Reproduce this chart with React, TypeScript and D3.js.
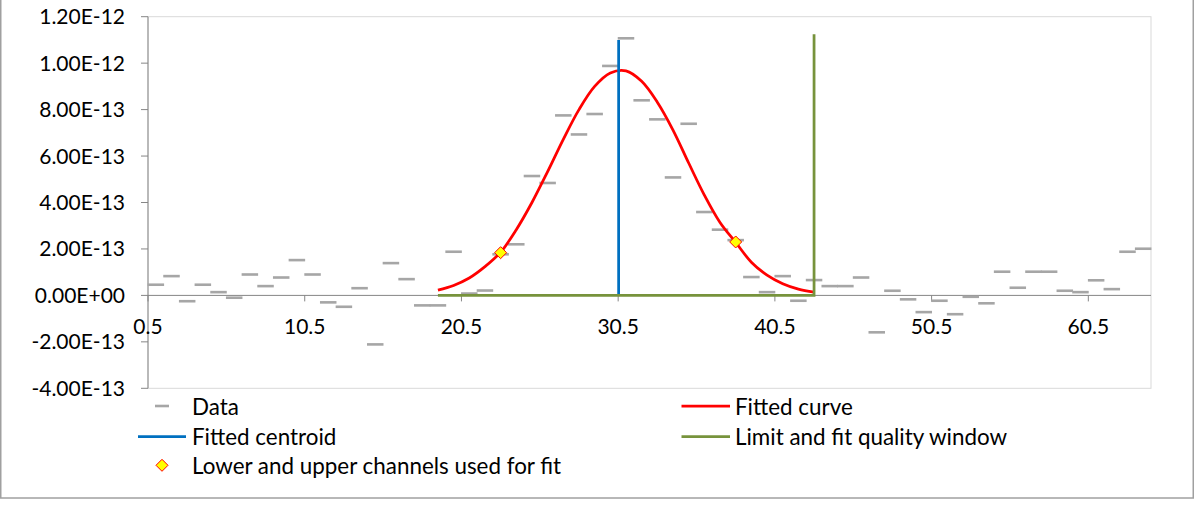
import React from "react";
import * as d3 from "d3";

// ---- data ----
const channels: number[] = d3.range(1, 65);
const dataValues: number[] = [
  4.6e-14, 8.3e-14, -2.5e-14, 4.6e-14, 1.4e-14, -1.0e-14, 9.0e-14, 4.0e-14, 7.7e-14, 15.2e-14,
  9.0e-14, -3.0e-14, -4.9e-14, 3.1e-14, -21.1e-14, 13.9e-14, 7.0e-14, -4.3e-14, -4.3e-14, 18.8e-14,
  0.8e-14, 2.1e-14, 17.7e-14, 22.0e-14, 51.4e-14, 48.4e-14, 77.5e-14, 69.3e-14, 78.1e-14, 98.8e-14,
  110.7e-14, 84.0e-14, 75.8e-14, 50.8e-14, 73.9e-14, 35.9e-14, 28.3e-14, 23.8e-14, 7.9e-14, 1.4e-14,
  8.3e-14, -2.3e-14, 6.6e-14, 4.0e-14, 4.0e-14, 7.7e-14, -15.9e-14, 2.0e-14, -1.7e-14, -7.2e-14,
  -2.3e-14, -8.1e-14, -0.6e-14, -3.4e-14, 10.2e-14, 3.3e-14, 10.2e-14, 10.2e-14, 2.0e-14, 1.4e-14,
  6.5e-14, 2.7e-14, 18.8e-14, 20.1e-14,
];

const curveChannels: number[] = d3.range(19, 44);
const curveValues: number[] = [
  0.023e-12, 0.043e-12, 0.075e-12, 0.124e-12, 0.186e-12, 0.283e-12, 0.4e-12, 0.533e-12, 0.672e-12,
  0.8e-12, 0.9e-12, 0.958e-12, 0.967e-12, 0.922e-12, 0.832e-12, 0.712e-12, 0.57e-12, 0.432e-12,
  0.314e-12, 0.228e-12, 0.143e-12, 0.087e-12, 0.05e-12, 0.027e-12, 0.014e-12,
];

const fitChannels: number[] = [23, 38];
const fitValues: number[] = [1.84e-13, 2.3e-13];

const centroidChannel = 30.53;
const centroidTop = 1.1e-12;

const windowChannels: number[] = [19, 43, 43];
const windowValues: number[] = [0, 0, 1.124e-12];

const yTicks: number[] = [-4e-13, -2e-13, 0, 2e-13, 4e-13, 6e-13, 8e-13, 1e-12, 1.2e-12];
const yTickLabels: string[] = [
  "-4.00E-13", "-2.00E-13", "0.00E+00", "2.00E-13", "4.00E-13", "6.00E-13", "8.00E-13", "1.00E-12", "1.20E-12",
];
const xTicks: number[] = [0.5, 10.5, 20.5, 30.5, 40.5, 50.5, 60.5];
const xTickLabels: string[] = ["0.5", "10.5", "20.5", "30.5", "40.5", "50.5", "60.5"];

const legendLabels: string[] = [
  "Data",
  "Fitted curve",
  "Fitted centroid",
  "Limit and fit quality window",
  "Lower and upper channels used for fit",
];

// ---- styles ----
const FONT = "Lato, 'Open Sans', sans-serif";
const GRAY = "#A6A6A6";
const RED = "#FF0000";
const BLUE = "#0070C0";
const GREEN = "#77933C";
const AXIS = "#868686";

const W = 1200;
const H = 516;
const L = 148;
const R = 1151;
const T = 16.7;
const B = 388.3;

export default function App() {
  const x = d3.scaleLinear().domain([0.5, 64.5]).range([L, R]);
  const y = d3.scaleLinear().domain([-4e-13, 1.2e-12]).range([B, T]);

  const line = d3
    .line<[number, number]>()
    .x((d) => x(d[0]))
    .y((d) => y(d[1]));
  const smooth = d3
    .line<[number, number]>()
    .x((d) => x(d[0]))
    .y((d) => y(d[1]))
    .curve(d3.curveCatmullRom.alpha(0.5));

  const curvePts: [number, number][] = curveChannels.map((c, i) => [c, curveValues[i]]);
  const windowPts: [number, number][] = windowChannels.map((c, i) => [c, windowValues[i]]);
  const centroidPts: [number, number][] = [
    [centroidChannel, 0],
    [centroidChannel, centroidTop],
  ];

  const dashW = 16.5;
  const dashH = 2.6;
  const diamond = (cx: number, cy: number, r: number) =>
    `M${cx},${cy - r}L${cx + r},${cy}L${cx},${cy + r}L${cx - r},${cy}Z`;

  const y0 = y(0);
  const fs = 21;
  const lfs = 22.4;

  const lx1 = 162; // left column marker centre
  const ltx1 = 192;
  const lx2a = 681.5;
  const lx2b = 730;
  const ltx2 = 735;
  const rows = [406, 436.7, 465.3];
  const tOff = 8.5;

  return (
    <div style={{ position: "fixed", left: 0, top: 0, width: W, height: H, background: "#fff" }}>
      <svg width={W} height={H} viewBox={`0 0 ${W} ${H}`} style={{ display: "block" }}>
        <rect x={0} y={0} width={W} height={H} fill="#fff" />
        <rect x={0.75} y={-5} width={1192.5} height={503} fill="#fff" stroke="#A0A0A0" strokeWidth={1.5} />

        {/* plot area */}
        <rect x={L} y={T} width={R - L} height={B - T} fill="none" stroke="#D9D9D9" strokeWidth={1} />

        {/* y axis */}
        <line x1={L} x2={L} y1={T} y2={B} stroke={AXIS} strokeWidth={1} />
        {yTicks.map((t, i) => (
          <g key={"yt" + i}>
            <line x1={L - 7} x2={L} y1={y(t)} y2={y(t)} stroke={AXIS} strokeWidth={1} />
            <text x={125} y={y(t) + 7.5} textAnchor="end" fontFamily={FONT} fontSize={fs} fill="#000">
              {yTickLabels[i]}
            </text>
          </g>
        ))}

        {/* x axis */}
        <line x1={L} x2={R} y1={y0} y2={y0} stroke={AXIS} strokeWidth={1} />
        {xTicks.map((t, i) => (
          <g key={"xt" + i}>
            <line x1={x(t)} x2={x(t)} y1={y0} y2={y0 + 6} stroke={AXIS} strokeWidth={1} />
            <text x={x(t)} y={334} textAnchor="middle" fontFamily={FONT} fontSize={fs} fill="#000">
              {xTickLabels[i]}
            </text>
          </g>
        ))}

        {/* data dashes */}
        {channels.map((c, i) => (
          <rect
            key={"d" + i}
            x={x(c) - dashW / 2}
            y={y(dataValues[i]) - dashH / 2}
            width={dashW}
            height={dashH}
            fill={GRAY}
          />
        ))}

        {/* fitted curve */}
        <path d={smooth(curvePts) || ""} fill="none" stroke={RED} strokeWidth={2.75} />
        {/* centroid */}
        <path d={line(centroidPts) || ""} fill="none" stroke={BLUE} strokeWidth={2.75} />
        {/* window */}
        <path d={line(windowPts) || ""} fill="none" stroke={GREEN} strokeWidth={2.75} />
        {/* fit channels */}
        {fitChannels.map((c, i) => (
          <path key={"f" + i} d={diamond(x(c), y(fitValues[i]), 6)} fill="#FFFF00" stroke={RED} strokeWidth={1} />
        ))}

        {/* legend */}
        <rect x={lx1 - 7} y={rows[0] - dashH / 2} width={14} height={dashH} fill={GRAY} />
        <text x={ltx1} y={rows[0] + tOff} fontFamily={FONT} fontSize={lfs}>{legendLabels[0]}</text>

        <line x1={lx2a} x2={lx2b} y1={rows[0]} y2={rows[0]} stroke={RED} strokeWidth={2.75} />
        <text x={ltx2} y={rows[0] + tOff} fontFamily={FONT} fontSize={lfs}>{legendLabels[1]}</text>

        <line x1={138} x2={186} y1={rows[1]} y2={rows[1]} stroke={BLUE} strokeWidth={2.75} />
        <text x={ltx1} y={rows[1] + tOff} fontFamily={FONT} fontSize={lfs}>{legendLabels[2]}</text>

        <line x1={lx2a} x2={lx2b} y1={rows[1]} y2={rows[1]} stroke={GREEN} strokeWidth={2.75} />
        <text x={ltx2} y={rows[1] + tOff} fontFamily={FONT} fontSize={lfs}>{legendLabels[3]}</text>

        <path d={diamond(lx1, rows[2], 6)} fill="#FFFF00" stroke={RED} strokeWidth={1} />
        <text x={ltx1} y={rows[2] + tOff} fontFamily={FONT} fontSize={lfs}>{legendLabels[4]}</text>
      </svg>
    </div>
  );
}
